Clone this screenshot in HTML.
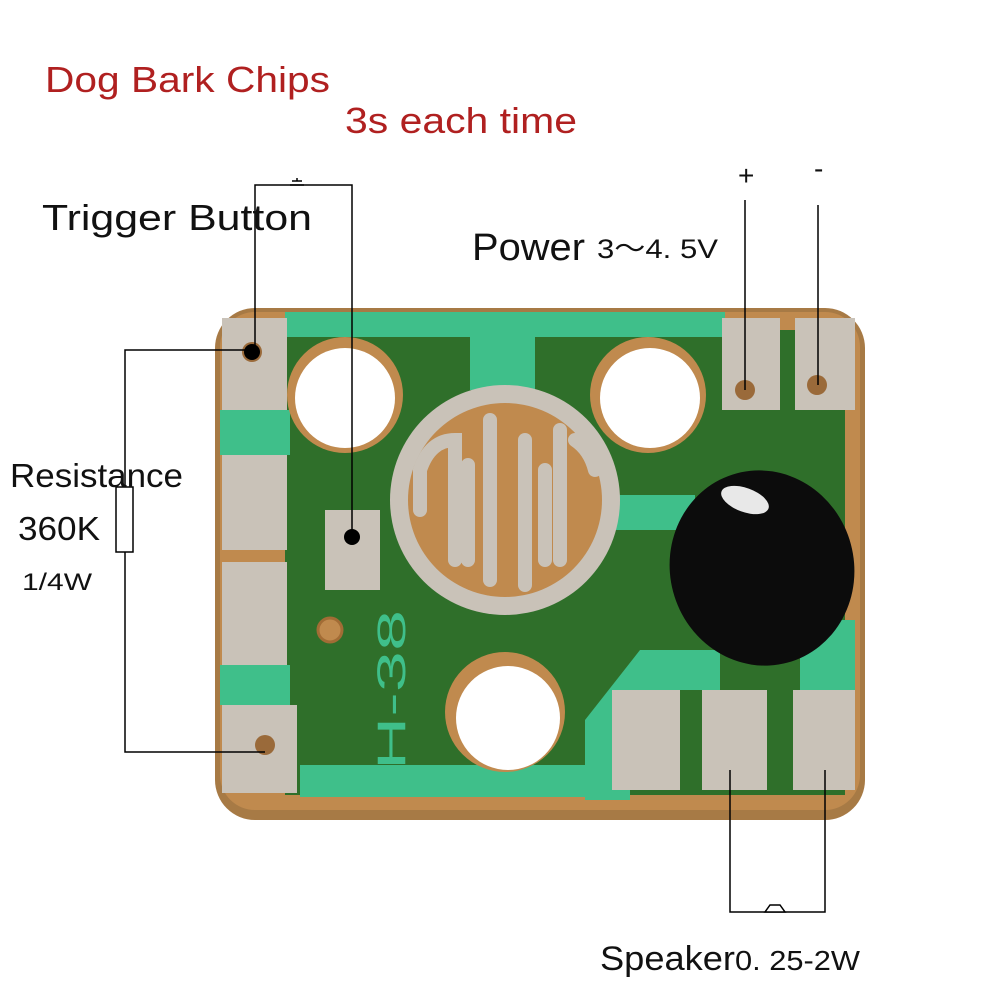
<!DOCTYPE html>
<html><head><style>
html,body{margin:0;padding:0;background:#fff;}
svg{display:block;}
text{font-family:"Liberation Sans","Noto Sans CJK SC",sans-serif;}
</style></head><body>
<svg width="1000" height="1000" viewBox="0 0 1000 1000" xmlns="http://www.w3.org/2000/svg">
<rect width="1000" height="1000" fill="#fff"/>
<!-- PCB -->
<rect x="215" y="308" width="650" height="512" rx="40" fill="#a77a45"/>
<rect x="220" y="312" width="640" height="498" rx="35" fill="#c08a4e"/>
<rect x="285" y="330" width="560" height="465" fill="#2f6f2a"/>
<rect x="285" y="312" width="440" height="25" fill="#3fbf8a"/>
<rect x="470" y="330" width="65" height="60" fill="#3fbf8a"/>
<rect x="220" y="410" width="70" height="45" fill="#3fbf8a"/>
<rect x="220" y="665" width="70" height="40" fill="#3fbf8a"/>
<rect x="300" y="765" width="300" height="32" fill="#3fbf8a"/>
<path d="M585,800 L585,720 L640,650 L720,650 L720,690 L660,690 L630,730 L630,800 Z" fill="#3fbf8a"/>
<rect x="605" y="495" width="90" height="35" fill="#3fbf8a"/>
<rect x="800" y="620" width="55" height="70" fill="#3fbf8a"/>
<rect x="222" y="318" width="65" height="92" fill="#c9c2b8"/>
<rect x="222" y="455" width="65" height="95" fill="#c9c2b8"/>
<rect x="222" y="562" width="65" height="103" fill="#c9c2b8"/>
<rect x="222" y="705" width="75" height="88" fill="#c9c2b8"/>
<rect x="325" y="510" width="55" height="80" fill="#c9c2b8"/>
<circle cx="330" cy="630" r="12" fill="#c08a4e" stroke="#a26c35" stroke-width="3"/>
<circle cx="252" cy="352" r="10" fill="#9a6a3a"/>
<circle cx="265" cy="745" r="10" fill="#9a6a3a"/>
<rect x="722" y="318" width="58" height="92" fill="#c9c2b8"/>
<rect x="795" y="318" width="60" height="92" fill="#c9c2b8"/>
<circle cx="745" cy="390" r="10" fill="#9a6a3a"/>
<circle cx="817" cy="385" r="10" fill="#9a6a3a"/>
<rect x="612" y="690" width="68" height="100" fill="#c9c2b8"/>
<rect x="702" y="690" width="65" height="100" fill="#c9c2b8"/>
<rect x="793" y="690" width="62" height="100" fill="#c9c2b8"/>
<circle cx="345" cy="395" r="58" fill="#c08a4e"/>
<circle cx="345" cy="398" r="50" fill="#fff"/>
<circle cx="648" cy="395" r="58" fill="#c08a4e"/>
<circle cx="650" cy="398" r="50" fill="#fff"/>
<circle cx="505" cy="712" r="60" fill="#c08a4e"/>
<circle cx="508" cy="718" r="52" fill="#fff"/>
<circle cx="505" cy="500" r="115" fill="#c9c2b8"/>
<circle cx="505" cy="500" r="97" fill="#c08a4e"/>
<g stroke="#c9c2b8" stroke-width="14" fill="none" stroke-linecap="round">
<path d="M420,510 L420,470 Q430,440 455,440 L455,560"/>
<path d="M490,420 L490,580"/>
<path d="M525,440 L525,585"/>
<path d="M560,430 L560,560"/>
<path d="M595,470 Q590,450 575,440"/>
<path d="M468,465 L468,560 M545,470 L545,560"/>
</g>
<text x="0" y="0" transform="translate(405,770) rotate(-90)" font-size="40" fill="#3fbf8a" textLength="160" lengthAdjust="spacingAndGlyphs">H-38</text>
<ellipse cx="762" cy="568" rx="92" ry="98" fill="#0c0c0c" transform="rotate(-15 762 568)"/>
<ellipse cx="745" cy="500" rx="25" ry="12" fill="#e8e8e8" transform="rotate(20 745 500)"/>
<g stroke="#000" stroke-width="1.5" fill="none">
<path d="M255,350 L255,185 L352,185 L352,535"/>
<path d="M250,350 L125,350 L125,752 L265,752"/>
<rect x="116" y="487" width="17" height="65" fill="#fff"/>
<path d="M745,390 L745,200"/>
<path d="M818,385 L818,205"/>
<path d="M730,770 L730,912 L825,912 L825,770"/>
<path d="M290,185 L304,185 M292,181 L302,181 M297,181 L297,178"/>
<path d="M765,912 L785,912 L780,905 L770,905 Z" fill="#fff"/>
</g>
<circle cx="252" cy="352" r="8" fill="#000"/>
<circle cx="352" cy="537" r="8" fill="#000"/>
<text x="45" y="92" font-size="36" fill="#b02020" textLength="285" lengthAdjust="spacingAndGlyphs">Dog Bark Chips</text>
<text x="345" y="133" font-size="36" fill="#b02020" textLength="232" lengthAdjust="spacingAndGlyphs">3s each time</text>
<text x="42" y="230" font-size="36" fill="#111" textLength="270" lengthAdjust="spacingAndGlyphs">Trigger Button</text>
<text x="472" y="260" font-size="38" fill="#111" textLength="113" lengthAdjust="spacingAndGlyphs">Power</text>
<text x="597" y="258" font-size="27" fill="#111" textLength="121" lengthAdjust="spacingAndGlyphs">3～4. 5V</text>
<text x="738" y="185" font-size="28" fill="#111">+</text>
<text x="814" y="178" font-size="28" fill="#111">-</text>
<text x="10" y="487" font-size="33" fill="#111" textLength="173" lengthAdjust="spacingAndGlyphs">Resistance</text>
<text x="18" y="540" font-size="33" fill="#111" textLength="82" lengthAdjust="spacingAndGlyphs">360K</text>
<text x="22" y="590" font-size="24" fill="#111" textLength="70" lengthAdjust="spacingAndGlyphs">1/4W</text>
<text x="600" y="970" font-size="34" fill="#111" textLength="135" lengthAdjust="spacingAndGlyphs">Speaker</text>
<text x="735" y="970" font-size="28" fill="#111" textLength="125" lengthAdjust="spacingAndGlyphs">0. 25-2W</text>
</svg>
</body></html>
